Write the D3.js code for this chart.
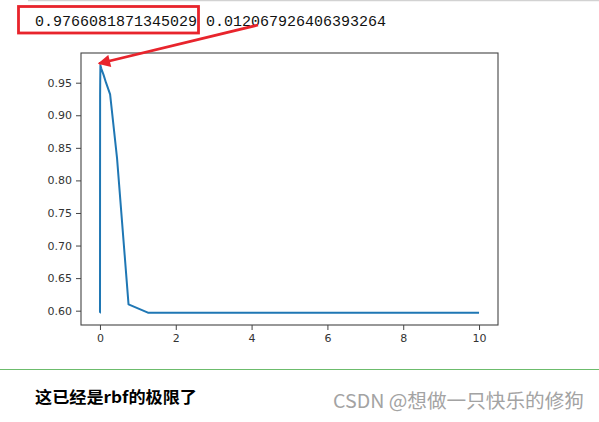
<!DOCTYPE html>
<html>
<head>
<meta charset="utf-8">
<script src="https://cdn.jsdelivr.net/npm/d3@7"></script>
<style>
  body { margin: 0; background: #fff; }
  svg { display: block; }
</style>
</head>
<body>
<div id="chart"></div>
<script>
// gamma values (x) and mean cv scores (y)
const gammaValues = [
  1.00e-10, 1.68e-10, 2.81e-10, 4.71e-10, 7.91e-10, 1.33e-9, 2.22e-9, 3.73e-9, 6.25e-9, 1.05e-8,
  1.76e-8, 2.95e-8, 4.94e-8, 8.29e-8, 1.39e-7, 2.33e-7, 3.91e-7, 6.55e-7, 1.10e-6, 1.84e-6,
  3.09e-6, 5.18e-6, 8.69e-6, 1.46e-5, 2.44e-5, 4.10e-5, 6.87e-5, 1.15e-4, 1.93e-4, 3.24e-4,
  5.43e-4, 9.10e-4, 1.53e-3, 2.56e-3, 4.29e-3, 7.20e-3, 0.012068, 0.0202, 0.0339, 0.0569,
  0.0954, 0.160, 0.268, 0.450, 0.754, 1.265, 2.121, 3.556, 5.964, 10.0
];
const scores = [
  0.5970, 0.5970, 0.5970, 0.5970, 0.5970, 0.5970, 0.5970, 0.5970, 0.5970, 0.5970,
  0.5970, 0.5970, 0.5970, 0.5970, 0.5970, 0.5970, 0.5970, 0.5970, 0.5970, 0.5970,
  0.5970, 0.5970, 0.5970, 0.5970, 0.5970, 0.5970, 0.5970, 0.5970, 0.5970, 0.5970,
  0.5970, 0.5990, 0.6250, 0.8100, 0.9300, 0.9530, 0.9766, 0.9750, 0.9720, 0.9680,
  0.9620, 0.9500, 0.9320, 0.8346, 0.6098, 0.5970, 0.5970, 0.5970, 0.5970, 0.5970
];
const xTicks = [0, 2, 4, 6, 8, 10];
const yTicks = [0.60, 0.65, 0.70, 0.75, 0.80, 0.85, 0.90, 0.95];
const printedLine = ["0.9766081871345029", "0.012067926406393264"];
const caption = "这已经是rbf的极限了";
const watermark = "CSDN @想做一只快乐的修狗";

const width = 599, height = 422;
const frame = {left: 81, right: 498, top: 53, bottom: 325};

const svg = d3.select("#chart").append("svg")
    .attr("width", width)
    .attr("height", height);

svg.append("rect").attr("width", width).attr("height", height).attr("fill", "#fff");

// thin grey line at the very top of the page
svg.append("line")
    .attr("x1", 28).attr("x2", width).attr("y1", 0.5).attr("y2", 0.5)
    .attr("stroke", "#d2d2d2").attr("stroke-width", 1.5);

// printed output
svg.append("text")
    .attr("x", 35).attr("y", 26)
    .style("font-family", "'Liberation Mono', monospace")
    .style("font-size", "15px")
    .attr("fill", "#111")
    .text(printedLine.join(" "));

// scales (matplotlib style 5% padding)
const xExt = d3.extent(gammaValues), yExt = d3.extent(scores);
const xPad = (xExt[1] - xExt[0]) * 0.05, yPad = (yExt[1] - yExt[0]) * 0.05;
const x = d3.scaleLinear().domain([xExt[0] - xPad, xExt[1] + xPad]).range([frame.left, frame.right]);
const y = d3.scaleLinear().domain([yExt[0] - yPad, yExt[1] + yPad]).range([frame.bottom, frame.top]);

const axisFont = g => g.selectAll("text")
    .style("font-family", "'DejaVu Sans', sans-serif")
    .style("font-size", "11px")
    .attr("fill", "#333");

const gx = svg.append("g")
    .attr("transform", `translate(0,${frame.bottom})`)
    .call(d3.axisBottom(x).tickValues(xTicks).tickSize(5).tickPadding(4).tickFormat(d3.format("d")));
gx.select(".domain").remove();
gx.selectAll("line").attr("stroke", "#444");
gx.call(axisFont);

const gy = svg.append("g")
    .attr("transform", `translate(${frame.left},0)`)
    .call(d3.axisLeft(y).tickValues(yTicks).tickSize(5).tickPadding(4).tickFormat(d3.format(".2f")));
gy.select(".domain").remove();
gy.selectAll("line").attr("stroke", "#444");
gy.call(axisFont);

// plot frame
svg.append("rect")
    .attr("x", frame.left).attr("y", frame.top)
    .attr("width", frame.right - frame.left).attr("height", frame.bottom - frame.top)
    .attr("fill", "none").attr("stroke", "#444").attr("stroke-width", 1.1);

// the curve
const line = d3.line().x((d, i) => x(gammaValues[i])).y(d => y(d));
svg.append("path")
    .datum(scores)
    .attr("d", line)
    .attr("fill", "none")
    .attr("stroke", "#1f77b4")
    .attr("stroke-width", 2)
    .attr("stroke-linejoin", "round");

// red annotation box and arrow
const red = "#e8242c";
svg.append("rect")
    .attr("x", 18.5).attr("y", 6.5).attr("width", 180).attr("height", 26.5)
    .attr("fill", "none").attr("stroke", red).attr("stroke-width", 2.8);

svg.append("defs").append("marker")
    .attr("id", "arrowhead")
    .attr("viewBox", "0 0 10 10")
    .attr("refX", 9).attr("refY", 5)
    .attr("markerWidth", 5).attr("markerHeight", 4.4)
    .attr("markerUnits", "strokeWidth")
    .attr("orient", "auto")
    .append("path").attr("d", "M0,0 L10,5 L0,10 Z").attr("fill", red);

svg.append("line")
    .attr("x1", 258).attr("y1", 25)
    .attr("x2", 99).attr("y2", 63.5)
    .attr("stroke", red).attr("stroke-width", 2.8)
    .attr("marker-end", "url(#arrowhead)");

// divider and captions
svg.append("line")
    .attr("x1", 0).attr("x2", width).attr("y1", 369.5).attr("y2", 369.5)
    .attr("stroke", "#6cbc6c").attr("stroke-width", 1.2);

svg.append("text")
    .attr("x", 35).attr("y", 403)
    .style("font-family", "'Noto Sans CJK SC', sans-serif")
    .style("font-size", "16px")
    .style("font-weight", "bold")
    .attr("fill", "#000")
    .attr("textLength", 162).attr("lengthAdjust", "spacingAndGlyphs")
    .text(caption);

svg.append("text")
    .attr("x", 333).attr("y", 408)
    .style("font-family", "'Noto Sans CJK SC', sans-serif")
    .style("font-size", "19px")
    .attr("fill", "#a3a3a3")
    .attr("textLength", 251).attr("lengthAdjust", "spacingAndGlyphs")
    .text(watermark);
</script>
</body>
</html>
